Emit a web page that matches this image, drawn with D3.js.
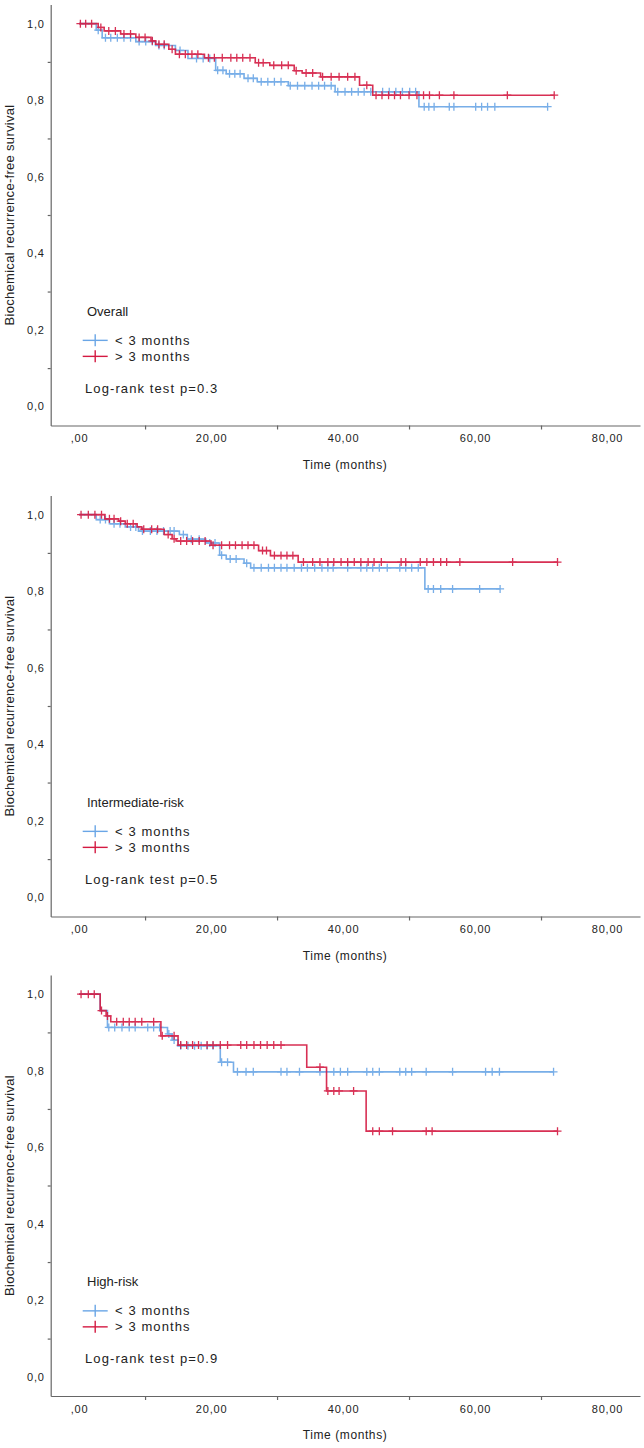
<!DOCTYPE html>
<html>
<head>
<meta charset="utf-8">
<title>Biochemical recurrence-free survival</title>
<script src="https://cdn.jsdelivr.net/npm/d3@7"></script>
<style>
body { margin: 0; background: #fff; }
text { font-family: "Liberation Sans", Arial, sans-serif; fill: #222; }
</style>
</head>
<body>
<script>

// ---- data ----
// Overall
var ovShortT = [2.6, 3.5, 8.6, 11.6, 14.6, 16.5, 20.7, 22.3, 25.0, 27.0, 31.7, 38.8, 51.5];
var ovShortS = [0.983, 0.963, 0.953, 0.943, 0.930, 0.909, 0.878, 0.869, 0.857, 0.848, 0.838, 0.822, 0.783];
var ovShortCens = [2.9, 4.0, 4.8, 5.8, 6.8, 7.8, 9.1, 10.1, 11.1, 12.1, 12.9, 15.3, 17.8, 18.8, 19.8, 21.0, 21.8, 22.8, 23.6, 24.4, 25.6, 26.4, 27.6, 28.6, 29.6, 30.6, 32.0, 33.1, 34.2, 35.3, 36.3, 37.2, 38.2, 39.2, 40.3, 41.3, 42.3, 43.2, 44.2, 46.0, 47.0, 48.0, 49.0, 50.1, 51.0, 52.3, 53.0, 53.8, 56.1, 56.8, 60.1, 61.0, 61.9, 63.0, 71.0];
var ovLongT = [2.9, 3.8, 6.3, 8.6, 10.9, 11.6, 13.6, 14.6, 19.0, 26.7, 28.9, 32.6, 33.8, 36.6, 42.5, 44.5];
var ovLongS = [0.990, 0.981, 0.973, 0.964, 0.955, 0.946, 0.933, 0.920, 0.911, 0.898, 0.891, 0.877, 0.871, 0.861, 0.839, 0.813];
var ovLongCens = [0.2, 1.0, 1.9, 3.3, 4.5, 5.5, 6.8, 7.8, 9.1, 10.0, 11.1, 12.1, 12.9, 14.1, 15.2, 16.1, 17.1, 18.0, 19.6, 20.5, 21.7, 23.0, 23.9, 24.8, 25.9, 27.2, 27.9, 29.5, 30.7, 31.7, 32.9, 34.4, 35.4, 36.9, 38.2, 39.4, 40.7, 41.8, 43.6, 45.0, 45.9, 46.9, 47.8, 48.7, 50.0, 51.2, 52.2, 53.1, 54.6, 56.8, 64.9, 72.0];

// Intermediate-risk
var imShortT = [2.6, 4.6, 7.0, 9.0, 15.2, 16.4, 19.2, 21.3, 22.3, 25.0, 26.0, 52.4];
var imShortS = [0.987, 0.976, 0.968, 0.957, 0.948, 0.936, 0.926, 0.894, 0.884, 0.873, 0.861, 0.806];
var imShortCens = [3.2, 4.0, 5.3, 6.2, 7.8, 8.6, 9.6, 10.8, 11.8, 12.8, 13.8, 14.4, 15.8, 17.0, 18.2, 19.8, 20.6, 21.6, 22.9, 23.8, 25.4, 26.5, 27.6, 28.7, 29.6, 30.6, 31.5, 32.6, 33.7, 34.6, 35.7, 36.8, 37.7, 38.5, 40.7, 42.7, 43.6, 44.5, 45.5, 46.7, 48.6, 49.5, 50.4, 51.4, 52.9, 53.7, 54.8, 56.6, 60.7, 63.8];
var imLongT = [3.9, 6.0, 7.0, 8.8, 9.5, 12.9, 14.1, 14.7, 20.0, 27.2, 29.0, 33.2];
var imLongS = [0.989, 0.983, 0.976, 0.968, 0.962, 0.948, 0.937, 0.931, 0.920, 0.906, 0.893, 0.876];
var imLongCens = [0.3, 1.4, 2.4, 3.4, 4.6, 5.3, 6.3, 7.3, 8.2, 9.8, 11.0, 11.9, 13.5, 14.4, 15.4, 16.3, 17.2, 18.2, 19.1, 20.3, 21.6, 22.8, 23.7, 24.7, 25.6, 26.5, 27.8, 28.4, 29.6, 30.6, 31.5, 32.4, 34.0, 35.4, 36.5, 37.7, 38.6, 39.7, 40.7, 41.7, 42.7, 43.8, 44.7, 45.8, 48.8, 49.5, 51.7, 52.7, 53.7, 54.8, 55.7, 57.7, 65.7, 72.5];

// High-risk
var hiShortT = [3.2, 4.3, 13.4, 14.1, 15.0, 21.4, 23.4];
var hiShortS = [0.957, 0.913, 0.896, 0.880, 0.865, 0.822, 0.797];
var hiShortCens = [4.5, 5.4, 6.5, 7.6, 8.5, 10.4, 11.3, 12.2, 13.6, 14.4, 15.4, 16.5, 17.5, 18.5, 19.4, 20.3, 21.6, 22.5, 24.0, 25.3, 26.4, 30.6, 31.5, 33.4, 36.5, 38.6, 39.6, 40.7, 43.6, 44.5, 45.5, 48.6, 49.5, 50.4, 52.6, 56.6, 61.6, 62.6, 63.7, 71.9];
var hiLongT = [3.2, 4.1, 4.8, 12.4, 15.0, 34.5, 37.5, 43.5];
var hiLongS = [0.957, 0.943, 0.928, 0.891, 0.867, 0.809, 0.747, 0.642];
var hiLongCens = [0.3, 1.4, 2.3, 3.4, 4.3, 5.7, 6.7, 7.6, 8.5, 9.5, 11.3, 12.6, 14.4, 15.4, 16.3, 17.2, 18.1, 19.4, 20.3, 21.4, 22.5, 24.5, 25.4, 26.5, 27.5, 28.5, 29.5, 30.6, 36.5, 37.7, 38.6, 39.4, 41.6, 44.5, 45.5, 47.5, 52.6, 53.5, 72.5];

var groupNames = ["< 3 months", "> 3 months"];
var panelTitles = ["Overall", "Intermediate-risk", "High-risk"];
var pValues = ["0.3", "0.5", "0.9"];
var xTickLabels = [0, 20, 40, 60, 80];
var xMinorTicks = [10, 30, 50, 70];
var yTickLabels = [0, 0.2, 0.4, 0.6, 0.8, 1.0];
var yMinorTicks = [0.1, 0.3, 0.5, 0.7, 0.9];

var panels = [
  {groups: [[ovShortT, ovShortS, ovShortCens], [ovLongT, ovLongS, ovLongCens]]},
  {groups: [[imShortT, imShortS, imShortCens], [imLongT, imLongS, imLongCens]]},
  {groups: [[hiShortT, hiShortS, hiShortCens], [hiLongT, hiLongS, hiLongCens]]}
];

var colors = ["#6aa6e6", "#d41a42"];
var panelTops = [4.5, 495.5, 975];
var panelH = 421;

var svg = d3.select("body").append("svg")
  .attr("width", 644)
  .attr("height", 1448);

var x = d3.scaleLinear().domain([-4.3, 85]).range([50.7, 640]);

var fmtX = function(v){ return v === 0 ? ",00" : d3.format(".2f")(v).replace(".", ","); };
var fmtY = function(v){ return d3.format(".1f")(v).replace(".", ","); };

function survAt(T, S, t) {
  var s = 1;
  T.forEach(function(tt, k){ if (tt <= t) s = S[k]; });
  return s;
}

function styleAxis(sel) {
  sel.attr("font-size", 11).attr("font-family", null);
  sel.selectAll("path, line").attr("stroke", "#666").attr("stroke-width", 1.2);
  sel.selectAll("text").attr("fill", "#222").style("letter-spacing", "0.8px");
}

panels.forEach(function(p, i){

  var y = d3.scaleLinear().domain([-0.05, 1.05]).range([panelTops[i] + panelH, panelTops[i]]);
  var g = svg.append("g");

  // y axis: line + minor ticks, then labels without ticks
  g.append("g")
    .attr("transform", "translate(" + x.range()[0] + ",0)")
    .call(d3.axisLeft(y).tickValues(yMinorTicks).tickSize(3).tickSizeOuter(0).tickFormat(""))
    .call(styleAxis);
  g.append("g")
    .attr("transform", "translate(" + x.range()[0] + ",0)")
    .call(d3.axisLeft(y).tickValues(yTickLabels).tickSize(0).tickPadding(6).tickFormat(fmtY))
    .call(styleAxis)
    .call(function(s){ s.select(".domain").remove(); });

  // x axis
  var xAxisY = y.range()[0];
  g.append("g")
    .attr("transform", "translate(0," + xAxisY + ")")
    .call(d3.axisBottom(x).tickValues(xMinorTicks).tickSize(4).tickSizeOuter(0).tickFormat(""))
    .call(styleAxis);
  g.append("g")
    .attr("transform", "translate(0," + xAxisY + ")")
    .call(d3.axisBottom(x).tickValues(xTickLabels).tickSize(0).tickPadding(9).tickFormat(fmtX))
    .call(styleAxis)
    .call(function(s){ s.select(".domain").remove(); });

  // axis titles
  g.append("text")
    .attr("x", 345)
    .attr("y", xAxisY + 43)
    .attr("text-anchor", "middle")
    .attr("font-size", 12)
    .style("letter-spacing", "0.6px")
    .text("Time (months)");

  g.append("text")
    .attr("transform", "translate(13.5," + (panelTops[i] + panelH / 2) + ") rotate(-90)")
    .attr("text-anchor", "middle")
    .attr("font-size", 13)
    .style("letter-spacing", "0.3px")
    .text("Biochemical recurrence-free survival");

  // curves
  var line = d3.line()
    .x(function(d){ return x(d[0]); })
    .y(function(d){ return y(d[1]); })
    .curve(d3.curveStepAfter);

  p.groups.forEach(function(grp, k){
    var T = grp[0], S = grp[1], C = grp[2];
    var pts = [[0, 1]];
    T.forEach(function(t, j){ pts.push([t, S[j]]); });
    var tEnd = Math.max(d3.max(T), d3.max(C));
    pts.push([tEnd, survAt(T, S, tEnd)]);

    var cg = g.append("g").attr("opacity", 0.9);
    cg.append("path")
      .attr("d", line(pts))
      .attr("fill", "none")
      .attr("stroke", colors[k])
      .attr("stroke-width", 1.6);

    cg.selectAll("path.cens")
      .data(C)
      .enter().append("path")
      .attr("class", "cens")
      .attr("d", function(t){
        var cx = x(t), cy = y(survAt(T, S, t));
        return "M" + (cx - 4) + "," + cy + "H" + (cx + 4) + "M" + cx + "," + (cy - 4) + "V" + (cy + 4);
      })
      .attr("fill", "none")
      .attr("stroke", colors[k])
      .attr("stroke-width", 1.3);
  });

  // legend
  var y0 = y(0);
  g.append("text")
    .attr("x", 87)
    .attr("y", y0 - 95 + 4.5)
    .attr("font-size", 13)
    .text(panelTitles[i]);

  groupNames.forEach(function(name, k){
    var ly = y0 - 66 + k * 16;
    g.append("line")
      .attr("x1", 82.7).attr("x2", 107.7)
      .attr("y1", ly).attr("y2", ly)
      .attr("stroke", colors[k]).attr("stroke-width", 1.4);
    g.append("line")
      .attr("x1", 95.2).attr("x2", 95.2)
      .attr("y1", ly - 6).attr("y2", ly + 6)
      .attr("stroke", colors[k]).attr("stroke-width", 1.4);
    g.append("text")
      .attr("x", 115)
      .attr("y", ly + 4.5)
      .attr("font-size", 13)
      .style("letter-spacing", "1.1px")
      .text(name);
  });

  g.append("text")
    .attr("x", 85)
    .attr("y", y0 - 18 + 4.5)
    .attr("font-size", 13)
    .style("letter-spacing", "1.1px")
    .text("Log-rank test p=" + pValues[i]);
});

</script>
</body>
</html>
